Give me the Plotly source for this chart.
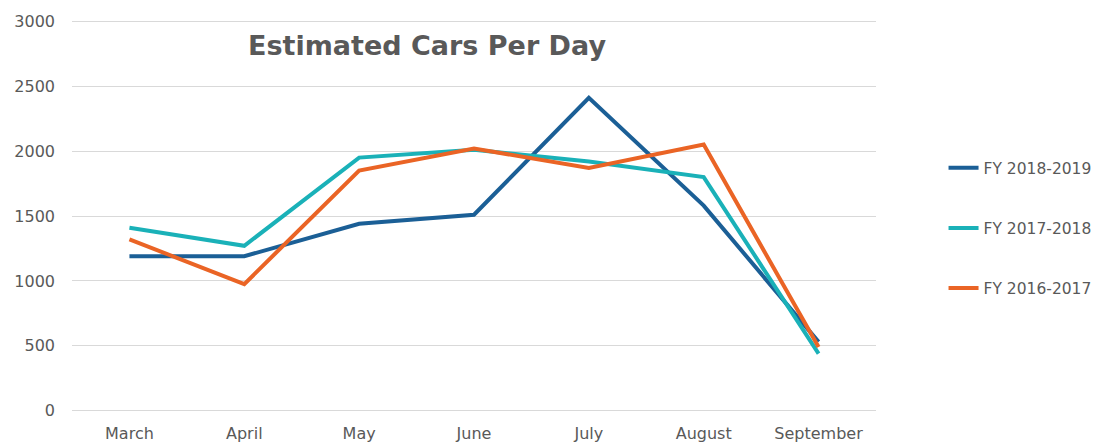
import plotly.graph_objects as go

# data
months = ["March", "April", "May", "June", "July", "August", "September"]
fy_2018_2019 = [1190, 1190, 1440, 1510, 2410, 1580, 530]
fy_2017_2018 = [1410, 1270, 1950, 2010, 1920, 1800, 440]
fy_2016_2017 = [1320, 975, 1850, 2020, 1870, 2050, 490]

series_names = ["FY 2018-2019", "FY 2017-2018", "FY 2016-2017"]
series_colors = ["#1b5f96", "#1ab1b8", "#ea6425"]

FONT = "DejaVu Sans, Liberation Sans, Arial, sans-serif"

fig = go.Figure()

for name, vals, col in zip(series_names, [fy_2018_2019, fy_2017_2018, fy_2016_2017], series_colors):
    fig.add_trace(go.Scatter(
        x=months,
        y=vals,
        name=name,
        legendgroup=name,
        mode="lines",
        line=dict(color=col, width=4),
    ))

# page body adds 8px offset, margins are in figure coords
fig.update_layout(
    width=1103,
    height=444,
    margin=dict(l=64, r=235, t=12, b=40, autoexpand=False),
    paper_bgcolor="white",
    plot_bgcolor="white",
    font=dict(family=FONT, color="#595959", size=16),
    showlegend=True,
    legend=dict(
        x=1.084, y=0.469, xanchor="left", yanchor="middle",
        font=dict(size=15.5, color="#595959"),
        tracegroupgap=37,
        bgcolor="rgba(0,0,0,0)",
    ),
    annotations=[dict(
        text="<b>Estimated Cars Per Day</b>",
        xref="paper", yref="paper",
        x=0.4415, y=0.935, xanchor="center", yanchor="middle",
        showarrow=False,
        font=dict(family=FONT, size=27, color="#595959"),
    )],
)

fig.update_xaxes(
    range=[-0.5, 6.5],
    showgrid=False, showline=False, ticks="",
    tickfont=dict(size=16, color="#595959"),
    ticklabelstandoff=10,
)
# small padding so the 0 and 3000 gridlines are not dropped at the edges
fig.update_yaxes(
    range=[-10, 3010], tickvals=[0, 500, 1000, 1500, 2000, 2500, 3000],
    showgrid=True, gridcolor="#d9d9d9", gridwidth=1,
    zeroline=False, showline=False, ticks="",
    tickfont=dict(size=16, color="#595959"),
    ticklabelstandoff=16,
)

fig.write_html("out.html")
